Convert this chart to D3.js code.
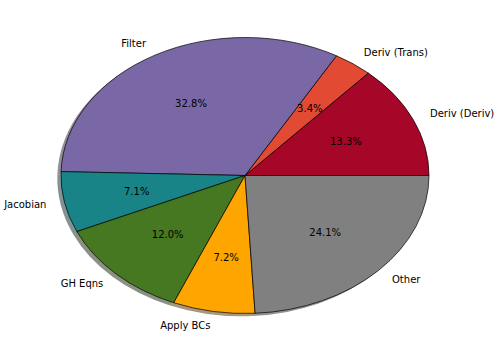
<!DOCTYPE html>
<html>
<head>
<meta charset="utf-8">
<script src="https://cdn.jsdelivr.net/npm/d3@7"></script>
<style>
  html, body { margin: 0; padding: 0; background: #fff; }
  svg { display: block; }
  text { font-family: "DejaVu Sans", sans-serif; font-size: 10px; fill: #000; }
</style>
</head>
<body>
<svg id="chart" width="499" height="352"></svg>
<script>
const categories = ["Deriv (Deriv)", "Deriv (Trans)", "Filter", "Jacobian", "GH Eqns", "Apply BCs", "Other"];
const values = [13.3, 3.4, 32.8, 7.1, 12.0, 7.2, 24.1];
const colors = ["#A60628", "#E24A33", "#7A68A6", "#188487", "#467821", "#FFA500", "#808080"];

const W = 499, H = 352;
const cx = 245, cy = 175.5, rx = 184, ry = 138;
const R = 100; // unit radius before elliptical scaling

const svg = d3.select("#chart");
const total = d3.sum(values);

const pie = d3.pie().sort(null).value(d => d)
  .startAngle(Math.PI / 2).endAngle(Math.PI / 2 - 2 * Math.PI);
const arcs = pie(values);
const arc = d3.arc().innerRadius(0).outerRadius(R);

const sx = rx / R, sy = ry / R;

// shadows
const shadowG = svg.append("g")
  .attr("transform", `translate(${cx - 0.02 * rx},${cy + 0.02 * ry}) scale(${sx},${sy})`);
shadowG.selectAll("path").data(arcs).enter().append("path")
  .attr("d", arc)
  .attr("fill", (d, i) => {
    const c = d3.rgb(colors[i]);
    return d3.rgb(c.r * 0.3, c.g * 0.3, c.b * 0.3).toString();
  })
  .attr("fill-opacity", 0.5)
  .attr("stroke", "none");

// wedges
const wedgeG = svg.append("g")
  .attr("transform", `translate(${cx},${cy}) scale(${sx},${sy})`);
wedgeG.selectAll("path").data(arcs).enter().append("path")
  .attr("d", arc)
  .attr("fill", (d, i) => colors[i])
  .attr("stroke", "#000")
  .attr("stroke-width", 0.7)
  .attr("stroke-linejoin", "round")
  .attr("vector-effect", "non-scaling-stroke");

function pos(d, f) {
  const a = (d.startAngle + d.endAngle) / 2;
  return [cx + Math.sin(a) * rx * f, cy - Math.cos(a) * ry * f];
}

// category labels
svg.append("g").selectAll("text").data(arcs).enter().append("text")
  .attr("x", d => pos(d, 1.1)[0])
  .attr("y", d => pos(d, 1.1)[1])
  .attr("text-anchor", d => Math.sin((d.startAngle + d.endAngle) / 2) >= 0 ? "start" : "end")
  .attr("dominant-baseline", "central")
  .text((d, i) => categories[i]);

// percentage labels
const fmt = d3.format(".1f");
svg.append("g").selectAll("text").data(arcs).enter().append("text")
  .attr("x", d => pos(d, 0.6)[0])
  .attr("y", d => pos(d, 0.6)[1])
  .attr("text-anchor", "middle")
  .attr("dominant-baseline", "central")
  .text(d => fmt(d.value / total * 100) + "%");
</script>
</body>
</html>
